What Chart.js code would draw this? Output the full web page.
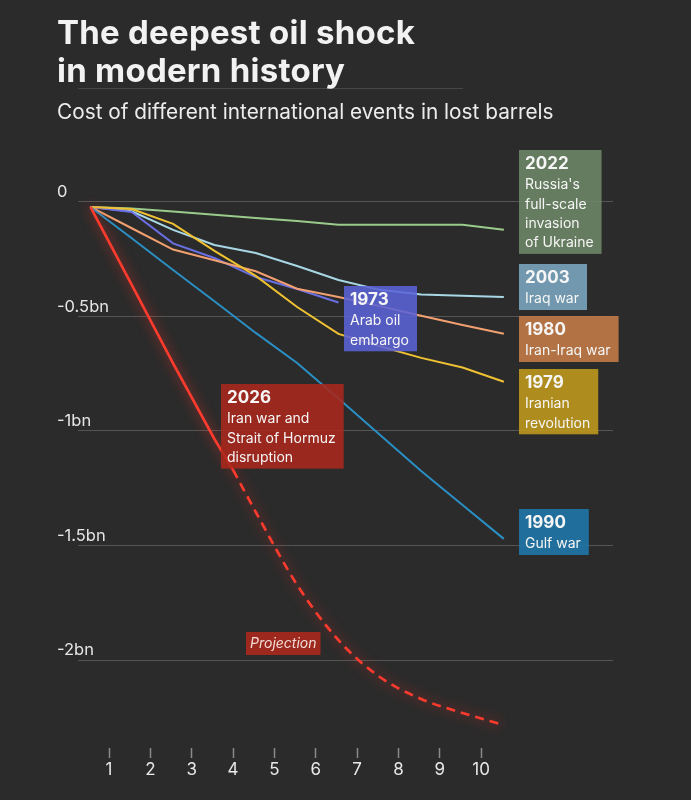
<!DOCTYPE html>
<html>
<head>
<meta charset="utf-8">
<script src="https://cdn.jsdelivr.net/npm/chart.js@4.4.0/dist/chart.umd.min.js"></script>
<style>
  html, body { margin: 0; padding: 0; background: #2b2b2b; }
  #wrap { position: relative; width: 691px; height: 800px; overflow: hidden; background: #2b2b2b;
          font-family: Inter, "Helvetica Neue", Arial, sans-serif; }
  #chart { position: absolute; left: 0; top: 0; z-index: 1; }
  #title { position: absolute; left: 57px; top: 14px; margin: 0; z-index: 2; color: #f2f2f2;
           font-weight: 700; font-size: 33px; line-height: 37.5px; letter-spacing: 0.25px; white-space: nowrap; }
  #rule { position: absolute; left: 78px; top: 88px; width: 385px; height: 1px; z-index: 2;
          background: rgba(255,255,255,0.13); }
  #subtitle { position: absolute; left: 57px; top: 101px; margin: 0; z-index: 2; color: #ececec;
              font-size: 20.8px; font-weight: 400; line-height: 22px; white-space: nowrap; }
</style>
</head>
<body>
<div id="wrap">
  <h1 id="title">The deepest oil shock<br>in modern history</h1>
  <div id="rule"></div>
  <p id="subtitle">Cost of different international events in lost barrels</p>
  <canvas id="chart" width="691" height="800"></canvas>
</div>
<script>
// ---------- data ----------
const xPositions   = [0.55, 1.55, 2.55, 3.55, 4.55, 5.55, 6.55, 7.55, 8.55, 9.55, 10.55];
const xTickValues  = [1, 2, 3, 4, 5, 6, 7, 8, 9, 10];
const xTickLabels  = ['1', '2', '3', '4', '5', '6', '7', '8', '9', '10'];
const yTickValues  = [0, -0.5, -1, -1.5, -2];
const yTickLabels  = ['0', '-0.5bn', '-1bn', '-1.5bn', '-2bn'];

// lost barrels, billions
const russia2022   = [-0.022, -0.029, -0.042, -0.056, -0.070, -0.083, -0.100, -0.100, -0.100, -0.100, -0.122];
const iraq2003     = [-0.022, -0.041, -0.122, -0.188, -0.223, -0.280, -0.341, -0.384, -0.404, -0.410, -0.415];
const embargo1973  = [-0.022, -0.044, -0.181, -0.245, -0.328, -0.380, -0.439];
const iranIraq1980 = [-0.022, -0.115, -0.208, -0.255, -0.303, -0.379, -0.415, -0.455, -0.497, -0.537, -0.576];
const iran1979     = [-0.022, -0.031, -0.096, -0.214, -0.323, -0.459, -0.576, -0.630, -0.681, -0.723, -0.785];
const gulf1990     = [-0.022, -0.159, -0.297, -0.434, -0.572, -0.703, -0.858, -1.017, -1.175, -1.323, -1.471];
const hormuz2026X          = [0.55, 1.55, 2.55, 3.55, 4.0];
const hormuz2026           = [-0.022, -0.362, -0.705, -1.035, -1.170];
const hormuzProjectionX    = [4.0, 4.55, 5.55, 6.55, 7.55, 8.55, 9.55, 10.55];
const hormuzProjection     = [-1.170, -1.354, -1.672, -1.913, -2.074, -2.170, -2.231, -2.284];

// annotation texts
const labelYears = ['2022', '2003', '1980', '1979', '1973', '1990', '2026'];
const labelLines = [
  ["Russia's", 'full-scale', 'invasion', 'of Ukraine'],
  ['Iraq war'],
  ['Iran-Iraq war'],
  ['Iranian', 'revolution'],
  ['Arab oil', 'embargo'],
  ['Gulf war'],
  ['Iran war and', 'Strait of Hormuz', 'disruption']
];
const projectionText = 'Projection';

// ---------- layout & style (not data) ----------
const labelBoxPos = [
  {x: 519, y: 150}, {x: 519, y: 264}, {x: 519, y: 316}, {x: 519, y: 369},
  {x: 344, y: 286}, {x: 519, y: 509}, {x: 221, y: 384}
];
const labelColors = ['#6e8868', '#7ba7c0', '#c67c48', '#c09b1c', '#5b63d6', '#1f77ab', '#aa281d'];
const projectionBox = {x: 246, y: 632, h: 23};
const FONT = 'Inter, "Helvetica Neue", Arial, sans-serif';

function pts(xs, ys) { return ys.map((v, i) => ({x: xs[i], y: v})); }

const RED = '#ff3b2e';
const datasets = [
  {label: '2026 Iran war', data: pts(hormuz2026X, hormuz2026), borderColor: RED, borderWidth: 2.6, glow: true},
  {label: '2026 projection', data: pts(hormuzProjectionX, hormuzProjection), borderColor: RED, borderWidth: 2.6,
   borderDash: [9, 6], cubicInterpolationMode: 'monotone', glow: true},
  {label: '1990 Gulf war', data: pts(xPositions, gulf1990), borderColor: '#2a8fc4'},
  {label: '1979 Iranian revolution', data: pts(xPositions, iran1979), borderColor: '#f0c232'},
  {label: '1980 Iran-Iraq war', data: pts(xPositions, iranIraq1980), borderColor: '#f2a070'},
  {label: '1973 Arab oil embargo', data: pts(xPositions, embargo1973), borderColor: '#6a6fe2'},
  {label: '2003 Iraq war', data: pts(xPositions, iraq2003), borderColor: '#a8d8e6'},
  {label: '2022 Russia', data: pts(xPositions, russia2022), borderColor: '#9acb8c'}
].map(d => Object.assign({borderWidth: 2, pointRadius: 0, fill: false, tension: 0}, d));

const glowPlugin = {
  id: 'glow',
  beforeDatasetDraw(chart, args) {
    const ds = chart.data.datasets[args.index];
    if (ds.glow) {
      chart.ctx.save();
      chart.ctx.shadowColor = 'rgba(255,55,40,0.8)';
      chart.ctx.shadowBlur = 12;
    }
  },
  afterDatasetDraw(chart, args) {
    const ds = chart.data.datasets[args.index];
    if (ds.glow) chart.ctx.restore();
  }
};

const PAD_X = 7, HEAD_DY = 14, SUB_DY = 35, LINE_H = 19.3, BOTTOM_PAD = 11;
const labelPlugin = {
  id: 'eventLabels',
  afterDatasetsDraw(chart) {
    const ctx = chart.ctx;
    ctx.save();
    labelYears.forEach((year, i) => {
      const pos = labelBoxPos[i];
      const lines = labelLines[i];
      ctx.font = '700 17px ' + FONT;
      let w = ctx.measureText(year).width;
      ctx.font = '400 14px ' + FONT;
      lines.forEach(t => { w = Math.max(w, ctx.measureText(t).width); });
      w += PAD_X * 2;
      const h = SUB_DY + LINE_H * (lines.length - 1) + BOTTOM_PAD;
      ctx.globalAlpha = 0.88;
      ctx.fillStyle = labelColors[i];
      ctx.fillRect(pos.x, pos.y, w, h);
      ctx.globalAlpha = 1;
      ctx.fillStyle = '#f6f6f6';
      ctx.textBaseline = 'middle';
      ctx.textAlign = 'left';
      ctx.font = '700 17px ' + FONT;
      ctx.fillText(year, pos.x + PAD_X - 1, pos.y + HEAD_DY);
      ctx.font = '400 14px ' + FONT;
      lines.forEach((t, j) => ctx.fillText(t, pos.x + PAD_X - 1, pos.y + SUB_DY + LINE_H * j));
    });
    // projection tag
    ctx.font = 'italic 400 14px ' + FONT;
    const pw = ctx.measureText(projectionText).width + 8;
    ctx.globalAlpha = 0.9;
    ctx.fillStyle = '#a8281d';
    ctx.fillRect(projectionBox.x, projectionBox.y, pw, projectionBox.h);
    ctx.globalAlpha = 1;
    ctx.fillStyle = '#f3dcd6';
    ctx.textBaseline = 'middle';
    ctx.fillText(projectionText, projectionBox.x + 4, projectionBox.y + projectionBox.h / 2 + 0.5);
    ctx.restore();
  }
};

new Chart(document.getElementById('chart'), {
  type: 'line',
  data: {datasets},
  options: {
    responsive: false,
    animation: false,
    layout: {padding: {top: 179, left: 57, right: 78, bottom: 0}},
    plugins: {legend: {display: false}, tooltip: {enabled: false}},
    scales: {
      x: {
        type: 'linear', min: 0.25, max: 13.19,
        afterBuildTicks: s => { s.ticks = xTickValues.map(v => ({value: v})); },
        afterFit: s => { s.height = 52; },
        grid: {display: true, drawOnChartArea: false, drawTicks: true, tickLength: 10,
               tickColor: '#8a8a8a', tickWidth: 1.5},
        border: {display: false},
        ticks: {color: '#e8e8e8', font: {family: FONT, size: 17}, padding: 2,
                maxRotation: 0, autoSkip: false, callback: (v, i) => xTickLabels[i]}
      },
      y: {
        type: 'linear', min: -2.384, max: 0.1,
        afterBuildTicks: s => { s.ticks = yTickValues.map(v => ({value: v})); },
        afterFit: s => { s.width = 21; },
        grid: {color: 'rgba(255,255,255,0.2)', lineWidth: 1, drawTicks: false},
        border: {display: false},
        ticks: {color: '#e6e6e6', font: {family: FONT, size: 16.5}, mirror: true, crossAlign: 'near',
                labelOffset: -9.5, padding: -21, callback: (v, i) => yTickLabels[i]}
      }
    }
  },
  plugins: [glowPlugin, labelPlugin]
});
</script>
</body>
</html>
